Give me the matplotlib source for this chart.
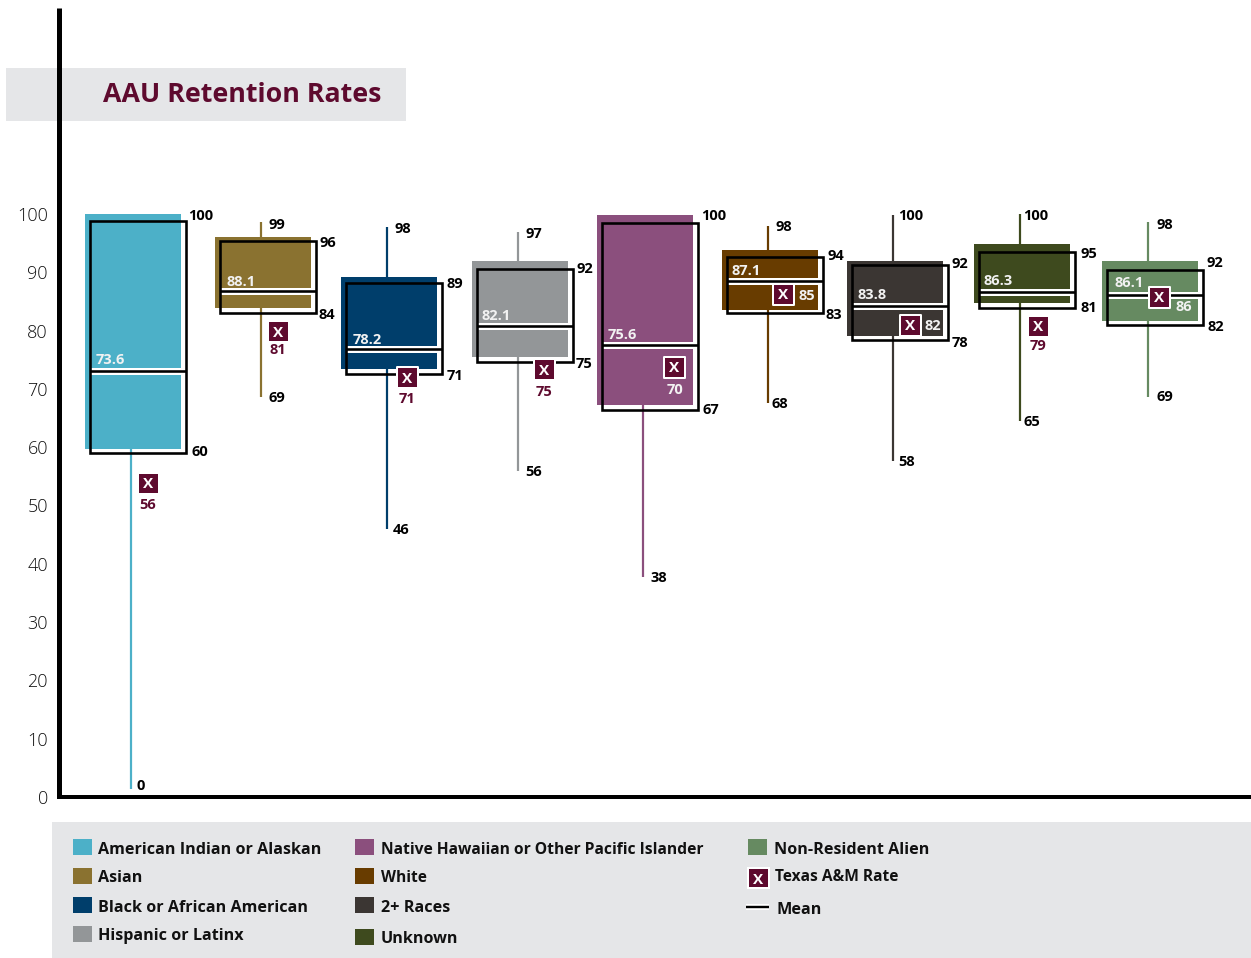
import matplotlib
matplotlib.use("Agg")
import matplotlib.pyplot as plt
from matplotlib.patches import Rectangle
from matplotlib.lines import Line2D
from matplotlib.transforms import Affine2D

W, H = 1251, 958
FONT = "Open Sans"
plt.rcParams["font.family"] = [FONT, "DejaVu Sans"]

# ---- data ----
categories = ["American Indian or Alaskan", "Asian", "Black or African American",
              "Hispanic or Latinx", "Native Hawaiian or Other Pacific Islander",
              "White", "2+ Races", "Unknown", "Non-Resident Alien"]
colors = ["#4cb0c8", "#8a7230", "#003e6b", "#939698", "#8b4f7d",
          "#683c00", "#3b3633", "#3e4a1e", "#668a61"]
fill_top = [100, 96.05, 89.2, 91.9, 99.8, 93.8, 91.9, 94.9, 91.9]
fill_bottom = [59.7, 83.9, 73.4, 75.5, 67.2, 83.5, 79.1, 84.7, 81.6]
outline_top = [98.8, 95.4, 88.2, 90.6, 98.5, 92.6, 91.3, 93.5, 90.4]
outline_bottom = [59.0, 83.0, 72.6, 74.6, 66.4, 83.0, 78.4, 83.9, 81.0]
mean_line = [73.1, 86.8, 76.8, 80.8, 77.5, 88.5, 84.2, 86.6, 86.1]
whisker_top = [99.8, 98.6, 97.8, 96.9, 99.6, 97.9, 99.8, 100, 98.6]
whisker_bottom = [1.4, 68.6, 46.0, 55.9, 37.7, 67.6, 57.6, 64.5, 68.6]
marker_y = [53.9, 79.9, 72.0, 73.4, 73.8, 86.3, 81.0, 80.8, 85.8]

mean_text = ["73.6", "88.1", "78.2", "82.1", "75.6", "87.1", "83.8", "86.3", "86.1"]
rate_text = ["56", "81", "71", "75", "70", "85", "82", "79", "86"]
max_text = ["100", "99", "98", "97", "100", "98", "100", "100", "98"]
high_text = ["", "96", "89", "92", "", "94", "92", "95", "92"]
low_text = ["60", "84", "71", "75", "67", "83", "78", "81", "82"]
min_text = ["0", "69", "46", "56", "38", "68", "58", "65", "69"]
y_ticks = [0, 10, 20, 30, 40, 50, 60, 70, 80, 90, 100]

# ---- layout, in pixels of the picture ----
fill_left = [85, 215, 341, 472, 597, 722, 847, 974, 1102]
marker_x = [148, 278, 407, 544, 674, 783, 910, 1038, 1159]
BOX_W, OUT_DX, WH_DX = 96, 5, 45.5
mean_pos = [(96, 358.5), (226.5, 280.5), (352.5, 338), (481.5, 314.5), (607.5, 333.5),
            (731.5, 269.5), (857.5, 293.5), (983.5, 279.5), (1114.5, 281.5)]
rate_pos = [(148, 503.5), (278, 348.5), (407, 397.5), (544.5, 390.5), (675, 388.5),
            (807, 294.5), (932.5, 324.5), (1038, 344.5), (1184, 305.5)]
rate_white = [False, False, False, False, True, True, True, False, True]
max_pos = [(188.5, 214.5), (268.5, 223.5), (394.5, 227.5), (525.5, 232), (701.5, 214.5),
           (775.5, 225.5), (898.5, 214.5), (1023.5, 214.5), (1156.5, 223.5)]
high_pos = [None, (319.5, 241.5), (446.5, 282.5), (576.5, 267.5), None,
            (827.5, 254.5), (951.5, 262.5), (1080.5, 252.5), (1206.5, 261.5)]
low_pos = [(191.5, 450.5), (318.5, 313.5), (446.5, 374.5), (575.5, 362.5), (702.5, 408.5),
           (825.5, 313.5), (951.5, 341.5), (1080.5, 306.5), (1207.5, 325.5)]
min_pos = [(136.5, 784.5), (268.5, 396.5), (392.5, 528.5), (525.5, 470.5), (650.5, 576.5),
           (771.5, 402.5), (898.5, 460.5), (1023.5, 420.5), (1156.5, 395.5)]

MAROON = "#5e0a2e"
BAND = "#e5e6e8"
PX = 0.72  # points per pixel at dpi 100

fig = plt.figure(figsize=(W / 100, H / 100), dpi=100, facecolor="white")
px = Affine2D().scale(1, -1).translate(0, H)

AX_L, AX_B, AX_T = 59, 797, 8
ax = fig.add_axes([AX_L / W, (H - AX_B) / H, (W - AX_L) / W, (AX_B - AX_T) / H])
ax.patch.set_visible(False)
ax.set_xlim(AX_L, W)
ax.set_ylim(0, (AX_B - AX_T) / 5.83)
for s in ("top", "right"):
    ax.spines[s].set_visible(False)
ax.spines["left"].set_linewidth(5 * PX)
ax.spines["bottom"].set_linewidth(4 * PX)
ax.spines["left"].set_capstyle("butt")
ax.spines["bottom"].set_capstyle("projecting")
ax.set_xticks([])
ax.set_yticks(y_ticks)
ax.set_yticklabels([str(t) for t in y_ticks], fontsize=13, color="#111111",
                   fontweight="light", fontfamily=[FONT, "DejaVu Sans"], va="center_baseline")
ax.tick_params(axis="y", length=0, pad=8)

# boxes
for i, c in enumerate(colors):
    x0 = fill_left[i]
    wx = x0 + WH_DX
    ax.plot([wx, wx], [whisker_bottom[i], whisker_top[i]], color=c, lw=2.2 * PX,
            solid_capstyle="butt", zorder=1)
    ax.add_patch(Rectangle((x0, fill_bottom[i]), BOX_W, fill_top[i] - fill_bottom[i],
                           facecolor=c, edgecolor="none", zorder=2))
    ox = x0 + OUT_DX
    ax.plot([ox, ox + BOX_W], [mean_line[i]] * 2, color="white", lw=7 * PX,
            solid_capstyle="butt", zorder=3)
    ax.plot([ox, ox + BOX_W], [mean_line[i]] * 2, color="black", lw=2.6 * PX,
            solid_capstyle="butt", zorder=4)
    ax.add_patch(Rectangle((ox, outline_bottom[i]), BOX_W, outline_top[i] - outline_bottom[i],
                           facecolor="none", edgecolor="black", lw=2.6 * PX, zorder=4))
    ax.scatter([marker_x[i]], [marker_y[i]], marker="s", s=(21 * PX) ** 2, color=MAROON,
               edgecolor="white", linewidth=2 * PX, zorder=5)
    ax.text(marker_x[i], marker_y[i], "X", color="white", fontsize=11, fontweight="bold",
            ha="center", va="center_baseline", zorder=6)

def label(pos, s, color="black", size=10.5, weight="bold", ha="left"):
    fig.text(pos[0], pos[1], s, color=color, fontsize=size, fontweight=weight, ha=ha,
             va="center_baseline", transform=px, zorder=10)

for i in range(len(categories)):
    label(mean_pos[i], mean_text[i], color="#f2f2f2")
    label(rate_pos[i], rate_text[i], color="#f2f2f2" if rate_white[i] else MAROON, ha="center")
    label(max_pos[i], max_text[i])
    if high_pos[i]:
        label(high_pos[i], high_text[i])
    label(low_pos[i], low_text[i])
    label(min_pos[i], min_text[i])

# title band
fig.add_artist(Rectangle((6, 68), 400, 53, facecolor=BAND, edgecolor="none",
                         transform=px, zorder=-1))
fig.text(103, 101.7, "AAU Retention Rates", color=MAROON, fontsize=19.25, fontweight="bold",
         ha="left", va="baseline", transform=px, zorder=10)

# legend band
fig.add_artist(Rectangle((52, 822), W - 52, H - 822, facecolor=BAND, edgecolor="none",
                         transform=px, zorder=-1))
legend_swatch = [(73, 839), (73, 868), (73, 897), (73, 926), (355, 839), (355, 868),
                 (355, 897), (355, 929), (748, 839)]
legend_text = [(98, 853.5), (98, 882.5), (98, 911.5), (98, 940.5), (381, 853.5),
               (381, 882.5), (381, 911.5), (381, 943), (774, 853.5)]
legend_size = [11.65, 11.6, 11.6, 11.6, 11.27, 11.2, 11.6, 11.6, 11.6]
for c, name, sw, tp, fs in zip(colors, categories, legend_swatch, legend_text, legend_size):
    fig.add_artist(Rectangle(sw, 19, 16, facecolor=c, edgecolor="none", transform=px, zorder=5))
    fig.text(tp[0], tp[1], name, color="#111111", fontsize=fs, fontweight="bold",
             ha="left", va="baseline", transform=px, zorder=10)

# Texas A&M and mean keys
fig.add_artist(Rectangle((746.5, 867), 23, 22, facecolor="white", edgecolor="none",
                         transform=px, zorder=5))
fig.add_artist(Rectangle((748.5, 869), 19, 18, facecolor=MAROON, edgecolor="none",
                         transform=px, zorder=6))
fig.text(758, 878.5, "X", color="white", fontsize=11, fontweight="bold", ha="center",
         va="center_baseline", transform=px, zorder=10)
fig.text(775, 881, "Texas A&M Rate", color="#111111", fontsize=11.2, fontweight="bold",
         ha="left", va="baseline", transform=px, zorder=10)
fig.add_artist(Line2D([746, 769], [907, 907], color="white", lw=6 * PX,
                      solid_capstyle="butt", transform=px, zorder=5))
fig.add_artist(Line2D([746, 769], [907, 907], color="black", lw=2.4 * PX,
                      solid_capstyle="butt", transform=px, zorder=6))
fig.text(776, 914, "Mean", color="#111111", fontsize=11.6, fontweight="bold",
         ha="left", va="baseline", transform=px, zorder=10)

fig.savefig("out.png", dpi=100)
